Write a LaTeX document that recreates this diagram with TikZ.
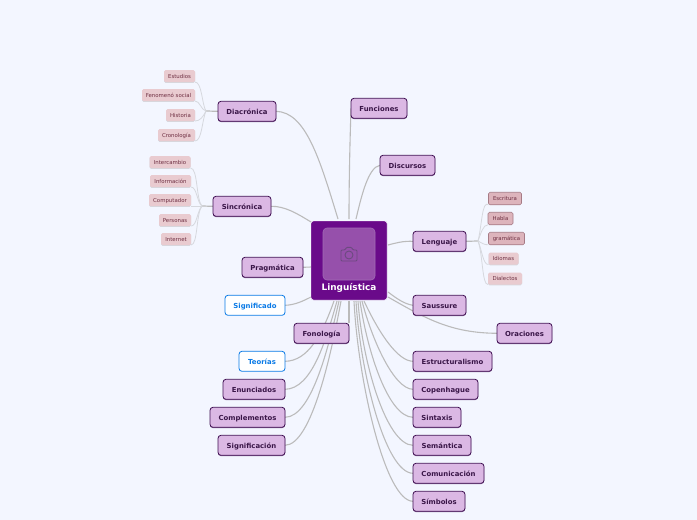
\documentclass[tikz,border=0pt]{standalone}
\usepackage{fontspec}
\setmainfont{DejaVu Sans}
\usetikzlibrary{backgrounds,shadows}
\definecolor{pagebg}{HTML}{F3F6FF}
\definecolor{mainfill}{HTML}{DBB8E4}
\definecolor{mainline}{HTML}{3F0F52}
\definecolor{mainshade}{HTML}{8A6A98}
\definecolor{maintext}{HTML}{3A1648}
\definecolor{leaffill}{HTML}{E9CBD0}
\definecolor{leaftext}{HTML}{6E2F42}
\definecolor{leafdark}{HTML}{DDB4BC}
\definecolor{leafline}{HTML}{A67B86}
\definecolor{centerfill}{HTML}{6A0A8A}
\definecolor{innerfill}{HTML}{9650AB}
\definecolor{innerline}{HTML}{A26CB6}
\definecolor{iconcol}{HTML}{6C4A80}
\definecolor{bluecol}{HTML}{0A7AE6}
\definecolor{wire}{HTML}{BBBBBB}
\definecolor{thinwire}{HTML}{D6D8DE}
\tikzset{
  x=1pt,y=-1pt,
  mainbox/.style={draw=mainline,line width=0.8pt,fill=mainfill,rounded corners=3pt,
    minimum height=20pt,inner sep=0pt,outer sep=0pt,text=maintext,text height=6pt,text depth=0pt,
    font=\fontsize{6.9}{8}\selectfont\bfseries,
    general shadow={fill=mainshade,shadow yshift=-0.8pt}},
  bluebox/.style={draw=bluecol,line width=0.8pt,fill=white,rounded corners=3pt,
    minimum height=20pt,inner sep=0pt,outer sep=0pt,text=bluecol,text height=6pt,text depth=0pt,
    font=\fontsize{6.9}{8}\selectfont\bfseries},
  leafbox/.style={fill=leaffill,rounded corners=1.5pt,minimum height=12pt,inner sep=0pt,
    outer sep=0pt,text=leaftext,text height=4.3pt,text depth=0pt,font=\fontsize{5.4}{6}\selectfont,
    general shadow={fill=thinwire,shadow yshift=-0.8pt}},
  leafdarkbox/.style={draw=leafline,line width=0.6pt,fill=leafdark,rounded corners=1.5pt,minimum height=12.5pt,
    inner sep=0pt,outer sep=0pt,text=leaftext,text height=4.8pt,text depth=0pt,font=\fontsize{5.4}{6}\selectfont},
  branch/.style={draw=wire,line width=1.1pt},
  twig/.style={draw=thinwire,line width=0.8pt},
  stem/.style={draw=wire,line width=1.2pt},
  centerbox/.style={fill=centerfill,draw=white,line width=0.4pt,rounded corners=2.5pt,
    minimum width=76pt,minimum height=79pt,inner sep=0pt,outer sep=0pt},
  innerbox/.style={fill=innerfill,draw=innerline,line width=0.6pt,rounded corners=4pt,
    minimum width=52pt,minimum height=52pt,inner sep=0pt,outer sep=0pt},
  iconline/.style={draw=iconcol,line width=0.9pt},
  centertext/.style={text=white,inner sep=0pt,font=\fontsize{8.9}{10}\selectfont\bfseries}
}
\begin{document}
\begin{tikzpicture}
\useasboundingbox (0,0) rectangle (697,520);
\node[centerbox] (cen) at (349,260.5) {};
\node[innerbox] (inn) at (349,254) {};
\node[centertext] (cenlab) at (349,287.5) {Linguística};
\draw[iconline,rounded corners=1pt] (341,250) -- (345,250) -- (346.5,247.3) -- (351.5,247.3) -- (353,250) -- (357,250) -- (357,261) -- (341,261) -- cycle;
\draw[iconline] (349,255) circle (4);
% main nodes
\node[mainbox,minimum width=58pt] (dia) at (247,111.3) {Diacrónica};
\node[mainbox,minimum width=58pt] (sin) at (242,206.3) {Sincrónica};
\node[mainbox,minimum width=56pt] (fun) at (379,108.3) {Funciones};
\node[mainbox,minimum width=55pt] (dis) at (407.5,165.3) {Discursos};
\node[mainbox,minimum width=53pt] (len) at (439.5,241.3) {Lenguaje};
\node[mainbox,minimum width=53pt] (sau) at (439.5,305.3) {Saussure};
\node[mainbox,minimum width=55pt] (ora) at (524.5,333.3) {Oraciones};
\node[mainbox,minimum width=61pt] (pra) at (272.5,267.3) {Pragmática};
\node[bluebox,minimum width=60pt] (sig) at (255,305.3) {Significado};
\node[mainbox,minimum width=55pt] (fon) at (321.5,333.3) {Fonología};
\node[bluebox,minimum width=46pt] (teo) at (262,361.3) {Teorías};
\node[mainbox,minimum width=62pt] (enu) at (254,389.3) {Enunciados};
\node[mainbox,minimum width=75pt] (com) at (247.5,417.3) {Complementos};
\node[mainbox,minimum width=67pt] (sgn) at (251.5,445.3) {Significación};
\node[mainbox,minimum width=79pt] (est) at (452.5,361.3) {Estructuralismo};
\node[mainbox,minimum width=65pt] (cop) at (445.5,389.3) {Copenhague};
\node[mainbox,minimum width=48pt] (sit) at (437,417.3) {Sintaxis};
\node[mainbox,minimum width=58pt] (sem) at (442,445.3) {Semántica};
\node[mainbox,minimum width=71pt] (cmn) at (448.5,473.3) {Comunicación};
\node[mainbox,minimum width=52pt] (sim) at (439,501.3) {Símbolos};
% left leaves
\node[leafbox,minimum width=31pt] (l1) at (179.5,76) {Estudios};
\node[leafbox,minimum width=53pt] (l2) at (168.5,95) {Fenomenó social};
\node[leafbox,minimum width=29pt] (l3) at (180.5,115) {Historia};
\node[leafbox,minimum width=37pt] (l4) at (176.5,135) {Cronología};
\node[leafbox,minimum width=41pt] (s1) at (170,162) {Intercambio};
\node[leafbox,minimum width=41pt] (s2) at (170.5,181) {Información};
\node[leafbox,minimum width=42pt] (s3) at (170,200) {Computador};
\node[leafbox,minimum width=32pt] (s4) at (175,220) {Personas};
\node[leafbox,minimum width=30pt] (s5) at (176,239) {Internet};
% right leaves
\node[leafdarkbox,minimum width=33pt] (r1) at (505,198.5) {Escritura};
\node[leafdarkbox,minimum width=25pt] (r2) at (500.5,218.5) {Habla};
\node[leafdarkbox,minimum width=36pt] (r3) at (506.5,238.5) {gramática};
\node[leafbox,minimum width=30pt] (r4) at (503.5,258.5) {Idiomas};
\node[leafbox,minimum width=34pt] (r5) at (505,278.5) {Dialectos};
% ports and hubs
\coordinate (pdia) at (338,219);
\coordinate (pfun) at (349,219);
\coordinate (pdis) at (356,219);
\coordinate (psin) at (311,222);
\coordinate (plen) at (388,245);
\coordinate (psau) at (388,292);
\coordinate (pora) at (388,297);
\coordinate (ppra) at (311,267);
\coordinate (psig) at (311,297);
\coordinate (pfon) at (349,301);
\coordinate (pteo) at (334,301);
\coordinate (penu) at (337,301);
\coordinate (pcom) at (339,301);
\coordinate (psgn) at (341,301);
\coordinate (pest) at (364,301);
\coordinate (pcop) at (362,301);
\coordinate (psit) at (360,301);
\coordinate (psem) at (358,301);
\coordinate (pcmn) at (356,301);
\coordinate (psim) at (354,301);
\coordinate (hdia) at (206,111);
\coordinate (hsin) at (202,206);
\coordinate (hlen) at (478,241);
\begin{pgfonlayer}{background}
\fill[pagebg] (0,0) rectangle (697,520);
\draw[branch] (dia.east) .. controls (306,112) and (320,160) .. (pdia);
\draw[branch] (sin.east) .. controls (285,206) and (298,214) .. (psin);
\draw[branch] (fun.west) .. controls (350,140) and (349,180) .. (pfun);
\draw[branch] (dis.west) .. controls (368,167) and (361,198) .. (pdis);
\draw[branch] (len.west) .. controls (402,241) and (396,243) .. (plen);
\draw[branch] (sau.west) .. controls (404,304) and (396,298) .. (psau);
\draw[branch] (ora.west) .. controls (450,333) and (425,318) .. (pora);
\draw[branch] (pra.east) -- (ppra);
\draw[branch] (sig.east) .. controls (295,305) and (303,301) .. (psig);
\draw[branch] (fon.north east) -- (pfon);
\draw[branch] (teo.east) .. controls (308,361) and (322,335) .. (pteo);
\draw[branch] (enu.east) .. controls (312,389) and (326,340) .. (penu);
\draw[branch] (com.east) .. controls (312,417) and (329,345) .. (pcom);
\draw[branch] (sgn.east) .. controls (312,445) and (332,350) .. (psgn);
\draw[branch] (est.west) .. controls (398,361) and (380,335) .. (pest);
\draw[branch] (cop.west) .. controls (394,389) and (372,340) .. (pcop);
\draw[branch] (sit.west) .. controls (388,417) and (367,350) .. (psit);
\draw[branch] (sem.west) .. controls (386,445) and (362,360) .. (psem);
\draw[branch] (cmn.west) .. controls (385,473) and (360,370) .. (pcmn);
\draw[branch] (sim.west) .. controls (385,501) and (358,380) .. (psim);
\draw[stem] (dia.west) -- (hdia);
\draw[stem] (sin.west) -- (hsin);
\draw[stem] (len.east) -- (hlen);
\draw[twig] (l1.south east) .. controls (202,82) and (202,105) .. (hdia);
\draw[twig] (l2.south east) .. controls (200,101) and (201,110) .. (hdia);
\draw[twig] (l3.south east) .. controls (200,121) and (203,117) .. (hdia);
\draw[twig] (l4.south east) .. controls (202,141) and (202,120) .. (hdia);
\draw[twig] (s1.south east) .. controls (198,168) and (196,200) .. (hsin);
\draw[twig] (s2.south east) .. controls (197,187) and (197,203) .. (hsin);
\draw[twig] (s3.south east) -- (hsin);
\draw[twig] (s4.south east) .. controls (197,226) and (197,211) .. (hsin);
\draw[twig] (s5.south east) .. controls (198,245) and (196,213) .. (hsin);
\draw[twig] (r1.south west) .. controls (482,200) and (482,225) .. (hlen);
\draw[twig] (r2.south west) .. controls (483,225) and (481,233) .. (hlen);
\draw[twig] (r3.south west) .. controls (484,245) and (482,243) .. (hlen);
\draw[twig] (r4.south west) .. controls (483,265) and (482,250) .. (hlen);
\draw[twig] (r5.south west) .. controls (482,285) and (483,255) .. (hlen);
\end{pgfonlayer}
\end{tikzpicture}
\end{document}
